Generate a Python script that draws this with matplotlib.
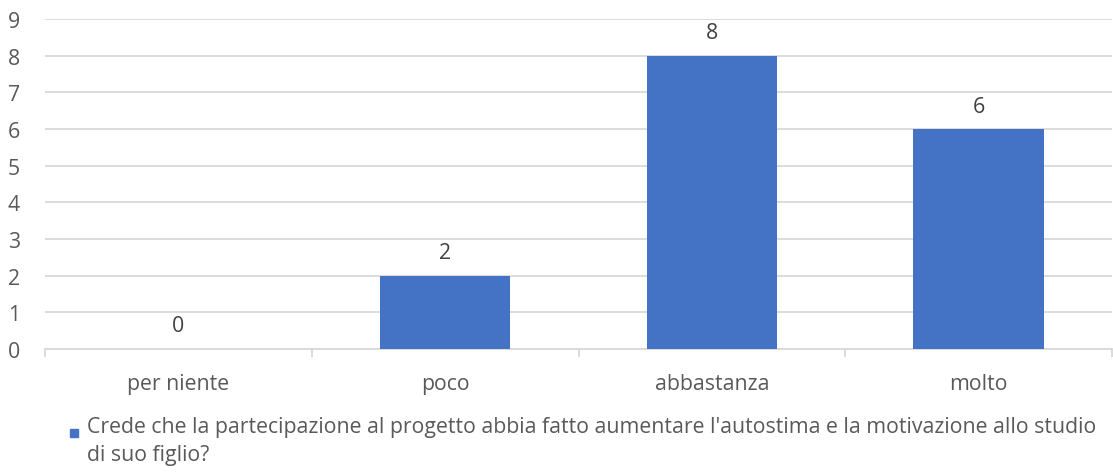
import matplotlib.pyplot as plt
from matplotlib.patches import Rectangle

categories = ["per niente", "poco", "abbastanza", "molto"]
values = [0, 2, 8, 6]
series_lines = ["Crede che la partecipazione al progetto abbia fatto aumentare l'autostima e la motivazione allo studio",
                "di suo figlio?"]

BAR_COLOR = "#4472C4"
TEXT_COLOR = "#595959"
GRID_COLOR = "#d9d9d9"
FS = 15.3

plt.rcParams['font.family'] = ['Open Sans', 'DejaVu Sans']

W, H = 1113, 477
fig = plt.figure(figsize=(W / 100, H / 100), dpi=100)
ax = fig.add_axes([45 / W, 1 - 350 / H, (1112 - 45) / W, 330 / H])

x = list(range(len(categories)))
ax.bar(x, values, width=0.49, color=BAR_COLOR, zorder=3)

for xi, v in zip(x, values):
    ax.annotate(str(v), (xi, v), xytext=(0, 9), textcoords="offset points",
                ha="center", va="bottom", fontsize=FS, color="#404040")

ax.set_xlim(-0.5, len(categories) - 0.5)
ax.set_ylim(0, 9)
ax.set_yticks(range(0, 10))
ax.yaxis.grid(True, color=GRID_COLOR, linewidth=1.3, zorder=0)

ax.set_xticks(x)
ax.set_xticklabels(categories)
ax.set_xticks([i - 0.5 for i in range(len(categories) + 1)], minor=True)
ax.tick_params(axis='x', which='major', length=0, pad=17, labelsize=FS, labelcolor=TEXT_COLOR)
ax.tick_params(axis='x', which='minor', length=6, width=1.3, color=GRID_COLOR)
ax.tick_params(axis='y', length=0, pad=18, labelsize=FS, labelcolor=TEXT_COLOR)

for side in ("top", "right", "left"):
    ax.spines[side].set_visible(False)
ax.spines["bottom"].set_color(GRID_COLOR)
ax.spines["bottom"].set_linewidth(1.3)

# legend drawn by hand so the marker sits beside the first line
fig.patches.append(Rectangle((70 / W, 1 - 438 / H), 8 / W, 8 / H,
                             transform=fig.transFigure, color=BAR_COLOR))
fig.text(87 / W, 1 - 428 / H, series_lines[0], ha="left", va="center",
         fontsize=FS, color=TEXT_COLOR)
fig.text(87 / W, 1 - 456 / H, series_lines[1], ha="left", va="center",
         fontsize=FS, color=TEXT_COLOR)

fig.savefig("out.png", dpi=100)
